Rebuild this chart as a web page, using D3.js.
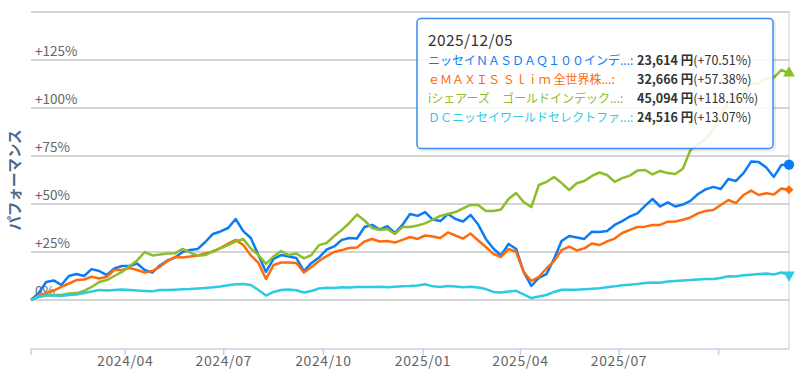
<!DOCTYPE html>
<html>
<head>
<meta charset="utf-8">
<script src="https://cdn.jsdelivr.net/npm/d3@7"></script>
<style>
  body { margin: 0; background: #fff; }
  svg { display: block; font-family: "Noto Sans CJK JP", "Noto Sans", sans-serif; }
</style>
</head>
<body>
<script>
// weekly closes, performance in % since the first day
const dates = [
  "2024-01-05","2024-01-12","2024-01-19","2024-01-26","2024-02-02","2024-02-09","2024-02-16","2024-02-23",
  "2024-03-01","2024-03-08","2024-03-15","2024-03-22","2024-03-29","2024-04-05","2024-04-12","2024-04-19",
  "2024-04-26","2024-05-03","2024-05-10","2024-05-17","2024-05-24","2024-05-31","2024-06-07","2024-06-14",
  "2024-06-21","2024-06-28","2024-07-05","2024-07-12","2024-07-19","2024-07-26","2024-08-02","2024-08-09",
  "2024-08-16","2024-08-23","2024-08-30","2024-09-06","2024-09-13","2024-09-20","2024-09-27","2024-10-04",
  "2024-10-11","2024-10-18","2024-10-25","2024-11-01","2024-11-08","2024-11-15","2024-11-22","2024-11-29",
  "2024-12-06","2024-12-13","2024-12-20","2024-12-27","2025-01-03","2025-01-10","2025-01-17","2025-01-24",
  "2025-01-31","2025-02-07","2025-02-14","2025-02-21","2025-02-28","2025-03-07","2025-03-14","2025-03-21",
  "2025-03-28","2025-04-04","2025-04-11","2025-04-18","2025-04-25","2025-05-02","2025-05-09","2025-05-16",
  "2025-05-23","2025-05-30","2025-06-06","2025-06-13","2025-06-20","2025-06-27","2025-07-04","2025-07-11",
  "2025-07-18","2025-07-25","2025-08-01","2025-08-08","2025-08-15","2025-08-22","2025-08-29","2025-09-05",
  "2025-09-12","2025-09-19","2025-09-26","2025-10-03","2025-10-10","2025-10-17","2025-10-24","2025-10-31",
  "2025-11-07","2025-11-14","2025-11-21","2025-11-28","2025-12-05"
];

const nasdaq = [
  0, 3.6, 9.4, 10.2, 7.8, 12.5, 13.5, 12.5, 16.1, 15.1,
  13.0, 16.4, 17.7, 17.7, 19.0, 15.6, 14.3, 18.0, 20.6, 22.1,
  25.0, 26.0, 26.6, 30.2, 34.4, 35.7, 37.5, 42.2, 35.9, 32.3,
  23.4, 14.6, 21.4, 23.4, 22.7, 21.9, 15.1, 19.3, 22.1, 26.3,
  27.9, 31.3, 32.3, 32.0, 38.0, 39.1, 36.7, 38.5, 34.9, 39.1,
  44.8, 43.8, 45.8, 41.9, 41.1, 44.8, 42.2, 40.9, 44.3, 39.3,
  31.8, 26.8, 23.2, 29.2, 26.6, 14.6, 7.3, 11.5, 13.5, 21.4,
  30.7, 33.3, 32.6, 31.8, 35.6, 35.4, 35.9, 39.1, 41.1, 43.5,
  45.1, 49.0, 52.6, 48.7, 50.8, 48.7, 49.7, 51.6, 55.2, 57.6,
  58.9, 57.8, 63.0, 62.0, 66.1, 72.1, 71.9, 69.0, 64.1, 70.3,
  70.51
];

const allWorld = [
  0, 2.3, 3.6, 4.9, 6.8, 8.6, 10.4, 10.7, 12.1, 11.2,
  12.1, 15.6, 15.6, 16.7, 15.6, 14.3, 15.1, 17.3, 20.3, 22.4,
  22.1, 22.6, 23.2, 24.2, 25.1, 27.1, 29.4, 31.3, 28.6, 23.2,
  19.3, 10.9, 18.2, 19.5, 19.5, 19.3, 14.3, 17.2, 20.3, 22.9,
  25.0, 26.0, 27.1, 27.3, 30.5, 31.8, 30.5, 30.7, 29.9, 31.3,
  32.8, 31.8, 33.6, 33.1, 32.3, 35.2, 33.6, 32.0, 34.6, 31.0,
  27.6, 24.0, 22.4, 26.6, 25.0, 14.6, 9.9, 12.0, 16.4, 20.3,
  26.0, 27.8, 25.8, 26.9, 29.4, 28.6, 30.5, 32.0, 34.9, 36.5,
  38.0, 38.2, 39.1, 39.1, 40.8, 40.9, 41.8, 43.0, 45.1, 46.4,
  46.9, 49.5, 52.1, 50.5, 54.7, 57.0, 54.7, 55.6, 54.9, 58.1,
  57.38
];

const gold = [
  0, 1.6, 2.3, 2.6, 2.6, 3.4, 3.6, 4.7, 6.8, 9.4,
  10.4, 12.5, 14.6, 17.7, 20.6, 25.0, 23.2, 23.7, 24.2, 24.3,
  26.6, 24.7, 23.1, 23.4, 25.5, 26.9, 28.6, 30.5, 31.8, 26.8,
  23.4, 18.8, 22.7, 25.5, 23.4, 24.2, 21.7, 23.4, 28.6, 29.7,
  33.3, 36.5, 40.1, 44.5, 41.4, 37.5, 36.5, 37.0, 34.4, 38.0,
  38.0, 38.8, 39.9, 41.9, 43.8, 44.8, 45.8, 47.7, 49.5, 49.5,
  46.4, 46.4, 47.1, 52.6, 55.7, 51.0, 48.4, 59.9, 61.5, 64.1,
  60.9, 57.3, 60.8, 62.0, 64.6, 66.4, 65.1, 61.5, 63.5, 64.8,
  67.4, 67.7, 65.4, 67.2, 66.1, 65.6, 68.4, 78.1, 81.0, 83.9,
  88.5, 96.9, 102.6, 106.3, 107.8, 112.5, 112.8, 115.4, 115.8, 119.8,
  118.16
];

const dcWorld = [
  0, 1.8, 2.3, 2.3, 2.1, 2.6, 2.9, 3.6, 4.4, 5.2,
  4.9, 5.2, 5.5, 5.2, 4.9, 4.7, 4.5, 5.2, 5.2, 5.4,
  5.6, 5.7, 6.0, 6.3, 6.6, 7.0, 7.7, 8.2, 8.3, 7.8,
  5.2, 2.3, 4.2, 5.2, 5.5, 5.1, 3.9, 4.7, 6.0, 6.4,
  6.3, 6.6, 6.5, 6.8, 6.8, 6.8, 6.9, 6.6, 6.9, 7.2,
  7.3, 7.6, 8.2, 7.1, 6.8, 7.3, 7.0, 6.6, 6.9, 6.5,
  5.7, 4.2, 3.9, 4.4, 4.8, 2.9, 1.0, 1.8, 2.6, 4.2,
  5.3, 5.3, 5.3, 5.6, 5.8, 6.1, 6.7, 7.1, 7.7, 8.0,
  8.3, 8.8, 9.1, 9.0, 9.6, 9.9, 10.2, 10.4, 10.7, 10.9,
  10.9, 11.5, 12.4, 12.2, 12.9, 13.2, 13.5, 13.8, 13.3, 14.3,
  13.07
];

const seriesNames = [
  "ニッセイＮＡＳＤＡＱ１００インデ...:",
  "ｅＭＡＸＩＳ Ｓｌｉｍ 全世界株...:",
  "iシェアーズ　ゴールドインデック...:",
  "ＤＣニッセイワールドセレクトファ...:"
];
const prices = ["23,614 円", "32,666 円", "45,094 円", "24,516 円"];
const changes = ["(+70.51%)", "(+57.38%)", "(+118.16%)", "(+13.07%)"];

const yTicks = [0, 25, 50, 75, 100, 125, 150];
const xTickDates = ["2024-04-01","2024-07-01","2024-10-01","2025-01-01","2025-04-01","2025-07-01","2025-10-01"];
const xTickLabels = ["2024/04","2024/07","2024/10","2025/01","2025/04","2025/07",""];
const tooltipDate = "2025/12/05";

const colors = ["#0c7cf4", "#ff6a0d", "#8cbd2a", "#2ccbe2"];
const markerTypes = ["circle", "diamond", "triangle", "triangleDown"];

const width = 795, height = 377;
const parse = d3.timeParse("%Y-%m-%d");
const dateValues = dates.map(parse);
const seriesValues = [nasdaq, allWorld, gold, dcWorld];

const svg = d3.select("body").append("svg")
  .attr("width", width)
  .attr("height", height);

const x = d3.scaleTime()
  .domain(d3.extent(dateValues))
  .range([31, 789]);

const y = d3.scaleLinear()
  .domain([-25, 150])
  .range([348, 12]);

// grid lines
svg.append("g").selectAll("line")
  .data(yTicks)
  .join("line")
  .attr("x1", 31).attr("x2", 789)
  .attr("y1", d => y(d)).attr("y2", d => y(d))
  .attr("stroke", "#d4d4d4")
  .attr("stroke-width", 2);

// y labels (under the lines, like the original)
svg.append("g").selectAll("text")
  .data(yTicks.filter(d => d < 150))
  .join("text")
  .attr("x", 35)
  .attr("y", d => y(d) - 4)
  .attr("fill", "#666")
  .style("font-size", "13.5px")
  .text(d => (d > 0 ? "+" : "") + d + "%");

// y title
svg.append("text")
  .attr("transform", "translate(20,180) rotate(-90)")
  .attr("text-anchor", "middle")
  .attr("fill", "#4a6a8c")
  .style("font-size", "14.5px")
  .style("font-weight", "bold")
  .text("パフォーマンス");

// x axis
const xAxis = svg.append("g");
xAxis.append("line")
  .attr("x1", 31).attr("x2", 789)
  .attr("y1", 349).attr("y2", 349)
  .attr("stroke", "#c4d2e2")
  .attr("stroke-width", 1.5);

const tickPos = [31].concat(xTickDates.map(d => x(parse(d))));
xAxis.selectAll(".tick")
  .data(tickPos)
  .join("line")
  .attr("class", "tick")
  .attr("x1", d => d).attr("x2", d => d)
  .attr("y1", 349).attr("y2", 355)
  .attr("stroke", "#c4d2e2")
  .attr("stroke-width", 1.5);

xAxis.selectAll("text")
  .data(xTickDates)
  .join("text")
  .attr("x", d => x(parse(d)))
  .attr("y", 366)
  .attr("text-anchor", "middle")
  .attr("fill", "#666")
  .style("font-size", "14px")
  .style("letter-spacing", "0.6px")
  .text((d, i) => xTickLabels[i]);

// crosshair on the hovered point
const lastDate = dateValues[dateValues.length - 1];
svg.append("line")
  .attr("x1", x(lastDate)).attr("x2", x(lastDate))
  .attr("y1", 11).attr("y2", 349)
  .attr("stroke", "#cccccc")
  .attr("stroke-width", 1);

// series lines
const line = d3.line()
  .x((d, i) => x(dateValues[i]))
  .y(d => y(d));

seriesValues.forEach((vals, i) => {
  svg.append("path")
    .attr("d", line(vals))
    .attr("fill", "none")
    .attr("stroke", colors[i])
    .attr("stroke-width", 2.5)
    .attr("stroke-linejoin", "round");
});

// hover markers
const symbolFor = {
  circle: d3.symbol().type(d3.symbolCircle).size(85),
  diamond: d3.symbol().type(d3.symbolSquare).size(40),
  triangle: d3.symbol().type(d3.symbolTriangle).size(60),
  triangleDown: d3.symbol().type(d3.symbolTriangle).size(60)
};
const rotFor = { circle: 0, diamond: 45, triangle: 0, triangleDown: 180 };

seriesValues.forEach((vals, i) => {
  const t = markerTypes[i];
  svg.append("path")
    .attr("d", symbolFor[t]())
    .attr("transform", `translate(${x(lastDate)},${y(vals[vals.length - 1])}) rotate(${rotFor[t]})`)
    .attr("fill", colors[i]);
});

// tooltip
const tip = svg.append("g").attr("transform", "translate(417,18.5)");
tip.append("rect")
  .attr("x", 1).attr("y", 1)
  .attr("width", 356).attr("height", 130)
  .attr("rx", 4)
  .attr("fill", "none")
  .attr("stroke", "rgba(0,0,0,0.08)")
  .attr("stroke-width", 4);
tip.append("rect")
  .attr("width", 356).attr("height", 130)
  .attr("rx", 4)
  .attr("fill", "rgba(255,255,255,0.88)")
  .attr("stroke", "#3a8ff0")
  .attr("stroke-width", 1.5);

tip.append("text")
  .attr("x", 11).attr("y", 27)
  .attr("fill", "#333")
  .style("font-size", "15.5px")
  .style("letter-spacing", "0.4px")
  .text(tooltipDate);

seriesNames.forEach((name, i) => {
  const yy = 46 + i * 19;
  tip.append("text")
    .attr("x", 11).attr("y", yy)
    .attr("fill", colors[i])
    .style("font-size", "12px")
    .text(name);
  const t = tip.append("text")
    .attr("x", 220).attr("y", yy)
    .attr("fill", "#333")
    .style("font-size", "12.5px");
  t.append("tspan").style("font-weight", "bold").text(prices[i]);
  t.append("tspan").text(changes[i]);
});
</script>
</body>
</html>
